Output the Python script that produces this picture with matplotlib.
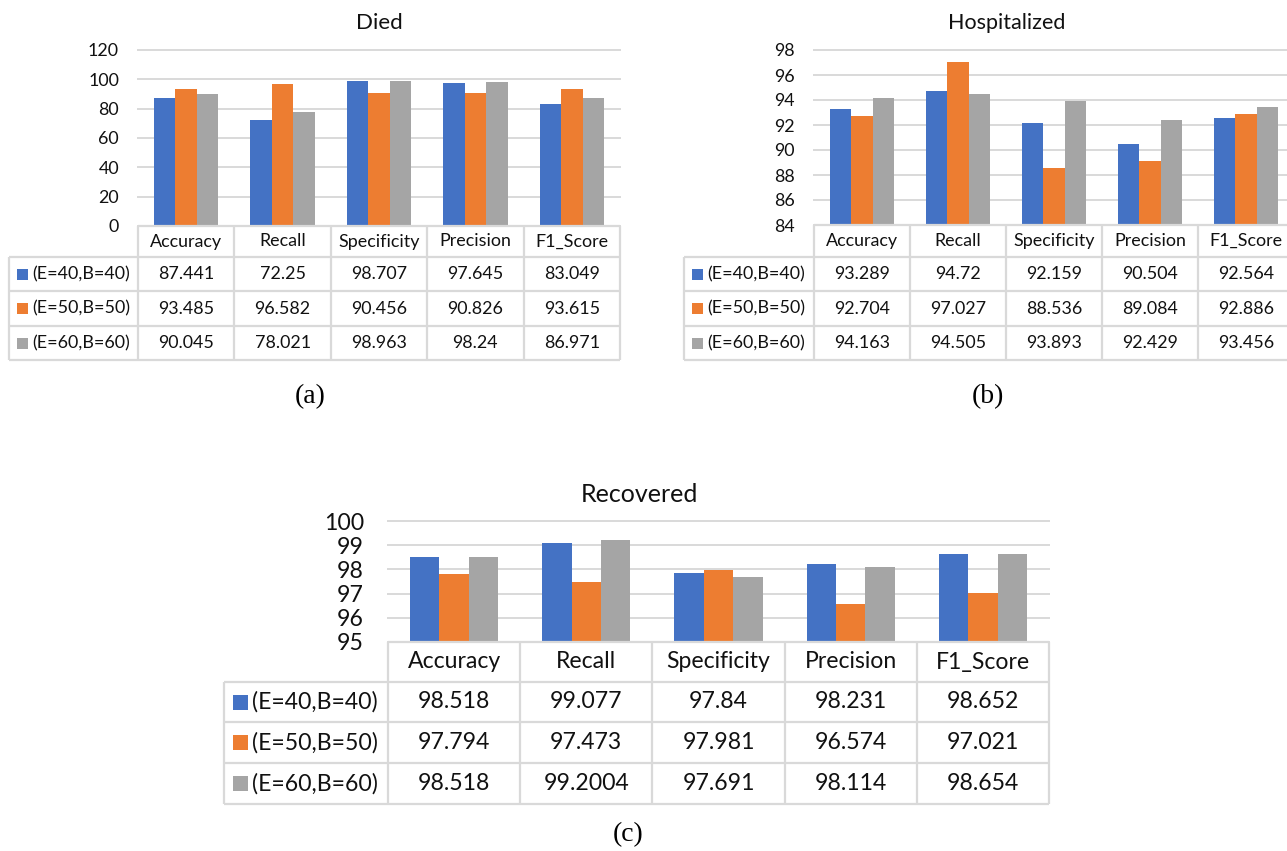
import matplotlib
matplotlib.use('Agg')
import matplotlib.pyplot as plt
from matplotlib.patches import Rectangle
import numpy as np

W, H = 1287, 851
plt.rcParams['font.family'] = ['Lato', 'DejaVu Sans']

metrics = ['Accuracy', 'Recall', 'Specificity', 'Precision', 'F1_Score']
runs = ['(E=40,B=40)', '(E=50,B=50)', '(E=60,B=60)']
colors = ['#4472C4', '#ED7D31', '#A5A5A5']

died_e40 = [87.441, 72.25, 98.707, 97.645, 83.049]
died_e50 = [93.485, 96.582, 90.456, 90.826, 93.615]
died_e60 = [90.045, 78.021, 98.963, 98.24, 86.971]

hosp_e40 = [93.289, 94.72, 92.159, 90.504, 92.564]
hosp_e50 = [92.704, 97.027, 88.536, 89.084, 92.886]
hosp_e60 = [94.163, 94.505, 93.893, 92.429, 93.456]

rec_e40 = [98.518, 99.077, 97.84, 98.231, 98.652]
rec_e50 = [97.794, 97.473, 97.981, 96.574, 97.021]
rec_e60 = [98.518, 99.2004, 97.691, 98.114, 98.654]

died_ticks = [0, 20, 40, 60, 80, 100, 120]
hosp_ticks = [84, 86, 88, 90, 92, 94, 96, 98]
rec_ticks = [95, 96, 97, 98, 99, 100]

GRID = '#D9D9D9'
INK = '#111111'


def draw_panel(fig, ov, title, series, yticks, box, label_left, rows, fs,
               title_pos, title_fs, key, label_gap):
    x0, x1, ytop, ybot = box
    ax = fig.add_axes([x0 / W, 1 - ybot / H, (x1 - x0) / W, (ybot - ytop) / H])
    n = len(metrics)
    x = np.arange(n)
    w = 1 / 4.5  # Excel gap width 150%
    for i, (vals, c) in enumerate(zip(series, colors)):
        ax.bar(x + (i - 1) * w, vals, w, color=c, zorder=3)
    ax.set_xlim(-0.5, n - 0.5)
    ax.set_ylim(yticks[0], yticks[-1])
    ax.set_yticks(yticks)
    ax.set_xticks([])
    ax.yaxis.grid(True, color=GRID, lw=1.4, zorder=0)
    for g in ax.get_ygridlines():
        g.set_clip_on(False)
    for s in ax.spines.values():
        s.set_visible(False)
    ax.tick_params(axis='y', length=0, labelsize=fs, labelcolor=INK,
                   pad=label_gap * 72 / 100)
    ax.set_facecolor('none')

    fig.text(title_pos[0] / W, 1 - title_pos[1] / H, title, fontsize=title_fs,
             color=INK, ha='center', va='center')

    # data table under the plot
    cw = (x1 - x0) / n
    kw = dict(color=GRID, lw=1.6)
    ov.hlines(rows[0], x0, x1, **kw)
    ov.hlines(rows[1:], label_left, x1, **kw)
    ov.vlines([x0 + k * cw for k in range(n + 1)], rows[0], rows[-1], **kw)
    ov.vlines(label_left, rows[1], rows[-1], **kw)

    hy = (rows[0] + rows[1]) / 2
    for k, m in enumerate(metrics):
        ov.text(x0 + (k + 0.5) * cw, hy, m, fontsize=fs, color=INK,
                ha='center', va='center')

    ksize, koff, toff = key
    for r, (name, vals, c) in enumerate(zip(runs, series, colors)):
        ym = (rows[r + 1] + rows[r + 2]) / 2
        ov.add_patch(Rectangle((label_left + koff, ym - ksize / 2), ksize, ksize,
                               color=c, lw=0))
        ov.text(label_left + toff, ym, name, fontsize=fs, color=INK,
                ha='left', va='center')
        for k, v in enumerate(vals):
            ov.text(x0 + (k + 0.5) * cw, ym, f'{v:g}', fontsize=fs, color=INK,
                    ha='center', va='center')


fig = plt.figure(figsize=(W / 100, H / 100), dpi=100)
ov = fig.add_axes([0, 0, 1, 1], zorder=5)
ov.set_xlim(0, W)
ov.set_ylim(H, 0)
ov.axis('off')

draw_panel(fig, ov, 'Died', [died_e40, died_e50, died_e60], died_ticks,
           (138, 620, 50, 226), 9, [226, 257, 291, 326, 360], 12.9,
           (379, 23), 16, (11, 8, 23), 19)
draw_panel(fig, ov, 'Hospitalized', [hosp_e40, hosp_e50, hosp_e60], hosp_ticks,
           (814, 1294, 50, 225), 684, [225, 257, 291, 326, 360], 12.9,
           (1007, 23), 15.5, (11, 8, 23), 19)
draw_panel(fig, ov, 'Recovered', [rec_e40, rec_e50, rec_e60], rec_ticks,
           (388, 1049, 521, 642), 224, [642, 682, 722, 763, 804], 16.6,
           (639, 494), 18, (15, 9, 28), 24)

serif = ['Liberation Serif', 'DejaVu Serif']
fig.text(310 / W, 1 - 397 / H, '(a)', fontsize=20, family=serif, ha='center', va='center')
fig.text(988 / W, 1 - 397 / H, '(b)', fontsize=20, family=serif, ha='center', va='center')
fig.text(628 / W, 1 - 835 / H, '(c)', fontsize=20, family=serif, ha='center', va='center')

fig.savefig('out.png', dpi=100, facecolor='white')
